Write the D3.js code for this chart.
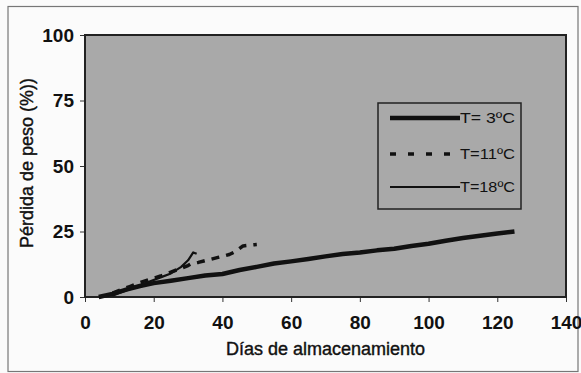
<!DOCTYPE html>
<html>
<head>
<meta charset="utf-8">
<script src="https://cdn.jsdelivr.net/npm/d3@7"></script>
<style>
  body { margin: 0; background: #fbfbfb; }
  text { font-family: "Liberation Sans", Arial, sans-serif; fill: #111; }
</style>
</head>
<body>
<svg id="chart" width="581" height="373"></svg>
<script>
// data
const xTicks = [0, 20, 40, 60, 80, 100, 120, 140];
const yTicks = [0, 25, 50, 75, 100];

const days3 = [4, 8, 12, 16, 20, 25, 30, 35, 40, 45, 50, 55, 60, 65, 70, 75, 80, 85, 90, 95, 100, 105, 110, 115, 120, 125];
const loss3 = [0, 1.2, 2.8, 4.2, 5.3, 6.2, 7.2, 8.2, 8.8, 10.3, 11.5, 12.8, 13.6, 14.5, 15.5, 16.4, 17, 17.8, 18.4, 19.5, 20.3, 21.5, 22.5, 23.4, 24.2, 25];

const days11 = [8, 10, 13, 16, 19, 22, 25, 28, 30, 31, 33, 36, 39, 42, 44, 46, 48, 50];
const loss11 = [1.5, 2.5, 4, 5.5, 6.8, 8, 9.5, 11, 12, 12.8, 13.2, 14.2, 15.2, 16.2, 17.5, 19.5, 19.8, 20];

const days18 = [8, 10, 13, 16, 19, 22, 25, 28, 30, 31.5, 32.5];
const loss18 = [0.5, 1.5, 3, 4.5, 6, 7.5, 9, 11.5, 14, 17, 16.5];

const seriesNames = ["T= 3ºC", "T=11ºC", "T=18ºC"];

const svg = d3.select("#chart");
const margin = { top: 35, right: 15, bottom: 76, left: 85 };
const width = 581 - margin.left - margin.right;
const height = 373 - margin.top - margin.bottom;

// outer frame
svg.append("rect")
  .attr("x", 8).attr("y", 6.5).attr("width", 570).attr("height", 365)
  .attr("fill", "#fbfbfb").attr("stroke", "#777").attr("stroke-width", 1.2);

const g = svg.append("g").attr("transform", "translate(" + margin.left + "," + margin.top + ")");

let x = d3.scaleLinear().domain([0, 140]).range([0, width]);
let y = d3.scaleLinear().domain([0, 100]).range([height, 0]);

g.append("rect")
  .attr("width", width).attr("height", height)
  .attr("fill", "#a9a9a9");

// axes
let xAxis = g.append("g")
  .attr("transform", "translate(0," + height + ")")
  .call(d3.axisBottom(x).tickValues(xTicks).tickSize(5).tickPadding(14));
xAxis.selectAll("text").attr("font-size", 19).attr("font-weight", "bold").attr("fill", "#1a1a1a");

let yAxis = g.append("g")
  .call(d3.axisLeft(y).tickValues(yTicks).tickSize(5).tickPadding(6));
yAxis.selectAll("text").attr("font-size", 19).attr("font-weight", "bold").attr("fill", "#1a1a1a");

svg.selectAll(".domain").remove();
svg.selectAll(".tick line").attr("stroke", "#333");

// plot border
g.append("rect")
  .attr("width", width).attr("height", height)
  .attr("fill", "none").attr("stroke", "#222").attr("stroke-width", 2);

// titles
g.append("text")
  .attr("x", width / 2).attr("y", height + 58)
  .attr("text-anchor", "middle")
  .attr("font-size", 18)
  .attr("stroke", "#111").attr("stroke-width", 0.4)
  .text("Días de almacenamiento");

g.append("text")
  .attr("transform", "rotate(-90)")
  .attr("x", -height / 2 + 3).attr("y", -52)
  .attr("text-anchor", "middle")
  .attr("font-size", 18)
  .attr("stroke", "#111").attr("stroke-width", 0.4)
  .text("Pérdida de peso (%))");

let line = d3.line().x(d => x(d[0])).y(d => y(d[1])).curve(d3.curveLinear);

let series = [
  { name: seriesNames[0], pts: d3.zip(days3, loss3), width: 4.5, dash: null },
  { name: seriesNames[1], pts: d3.zip(days11, loss11), width: 3.5, dash: "8,7" },
  { name: seriesNames[2], pts: d3.zip(days18, loss18), width: 2.2, dash: null }
];

g.selectAll(".series")
  .data(series)
  .enter().append("path")
  .attr("class", "series")
  .attr("d", d => line(d.pts))
  .attr("fill", "none")
  .attr("stroke", "#111")
  .attr("stroke-width", d => d.width)
  .attr("stroke-dasharray", d => d.dash)
  .attr("stroke-linejoin", "round");

// legend
let legend = svg.append("g").attr("transform", "translate(378,103)");
legend.append("rect")
  .attr("width", 143).attr("height", 106)
  .attr("fill", "none").attr("stroke", "#222").attr("stroke-width", 1.5);

let item = legend.selectAll(".item")
  .data(series)
  .enter().append("g")
  .attr("transform", (d, i) => "translate(0," + [15, 51, 84][i] + ")");

item.append("line")
  .attr("x1", 12).attr("x2", 82)
  .attr("stroke", "#111")
  .attr("stroke-width", d => d.width)
  .attr("stroke-dasharray", d => d.dash ? "6,12" : null);

item.append("text")
  .attr("x", 82).attr("y", 5)
  .attr("font-size", 14)
  .attr("textLength", 55)
  .attr("lengthAdjust", "spacingAndGlyphs")
  .text(d => d.name);
</script>
</body>
</html>
